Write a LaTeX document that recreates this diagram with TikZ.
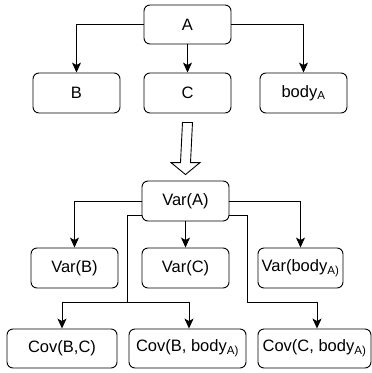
\documentclass[tikz,border=0pt]{standalone}
\usepackage{fontspec}
\setmainfont{Liberation Sans}
\usetikzlibrary{arrows.meta}
\tikzset{
  box/.style={draw, line width=0.9pt, rounded corners=6pt, align=center, inner sep=0pt,
    font=\fontsize{16.5}{19}\selectfont},
  conn/.style={draw, line width=0.9pt, -{Stealth[length=10pt,width=9pt,inset=2.5pt]}},
  plain/.style={draw, line width=0.9pt},
  hollow/.style={draw, line width=0.9pt, fill=white}
}
\begin{document}
\begin{tikzpicture}[x=1pt,y=-1pt]
\useasboundingbox (0,0) rectangle (372,373);
% top tree
\node[box, minimum width=87pt, minimum height=39pt] (A) at (187.5,24.5) {A};
\node[box, minimum width=87pt, minimum height=40pt] (B) at (76.5,93) {B};
\node[box, minimum width=87pt, minimum height=40pt] (C) at (187.5,93) {C};
\node[box, minimum width=87pt, minimum height=40pt] (bA) at (303.5,93) {body\textsubscript{A}};
\draw[conn] (A.west) -| (B.north);
\draw[conn] (A.south) -- (C.north);
\draw[conn] (A.east) -| (bA.north);
% bottom tree
\node[box, minimum width=87pt, minimum height=40pt] (VA) at (185.5,201) {Var(A)};
\node[box, minimum width=87pt, minimum height=40pt] (VB) at (74.5,268) {Var(B)};
\node[box, minimum width=87pt, minimum height=40pt] (VC) at (185.5,268) {Var(C)};
\node[box, minimum width=85pt, minimum height=40pt] (VbA) at (300.5,268) {Var(body\textsubscript{A)}};
\node[box, minimum width=110pt, minimum height=39pt] (CBC) at (62,348.5) {Cov(B,C)};
\node[box, minimum width=117pt, minimum height=39pt] (CBb) at (187.5,348.5) {Cov(B, body\textsubscript{A)}};
\node[box, minimum width=113pt, minimum height=39pt] (CCb) at (314.5,348.5) {Cov(C, body\textsubscript{A)}};
% hollow arrow from C to Var(A)
\coordinate (hs) at ([yshift=-9pt]C.south);
\coordinate (he) at ([yshift=6pt]VA.north);
\draw[hollow] ([xshift=-5pt]hs) -- ([xshift=-5pt,yshift=12pt]he) -- ([xshift=-14.5pt,yshift=12pt]he)
  -- (he) -- ([xshift=14.5pt,yshift=12pt]he) -- ([xshift=5pt,yshift=12pt]he) -- ([xshift=5pt]hs) -- cycle;
\draw[conn] (VA.west) -| (VB.north);
\draw[conn] (VA.south) -- (VC.north);
\draw[conn] (VA.east) -| (VbA.north);
\coordinate (lt) at (127,215);
\coordinate (lj) at (127,302);
\coordinate (rt) at (247,215);
\coordinate (rj) at (247,302);
\draw[plain] ([yshift=-14pt]VA.west) -- (lt) -- (lj);
\draw[conn] (lj) -| (CBC.north);
\draw[conn] (lj) -| ([xshift=1.5pt]CBb.north);
\draw[plain] ([yshift=-14pt]VA.east) -- (rt) -- (rj);
\draw[conn] (rj) -| ([xshift=2.5pt]CCb.north);
\end{tikzpicture}
\end{document}
